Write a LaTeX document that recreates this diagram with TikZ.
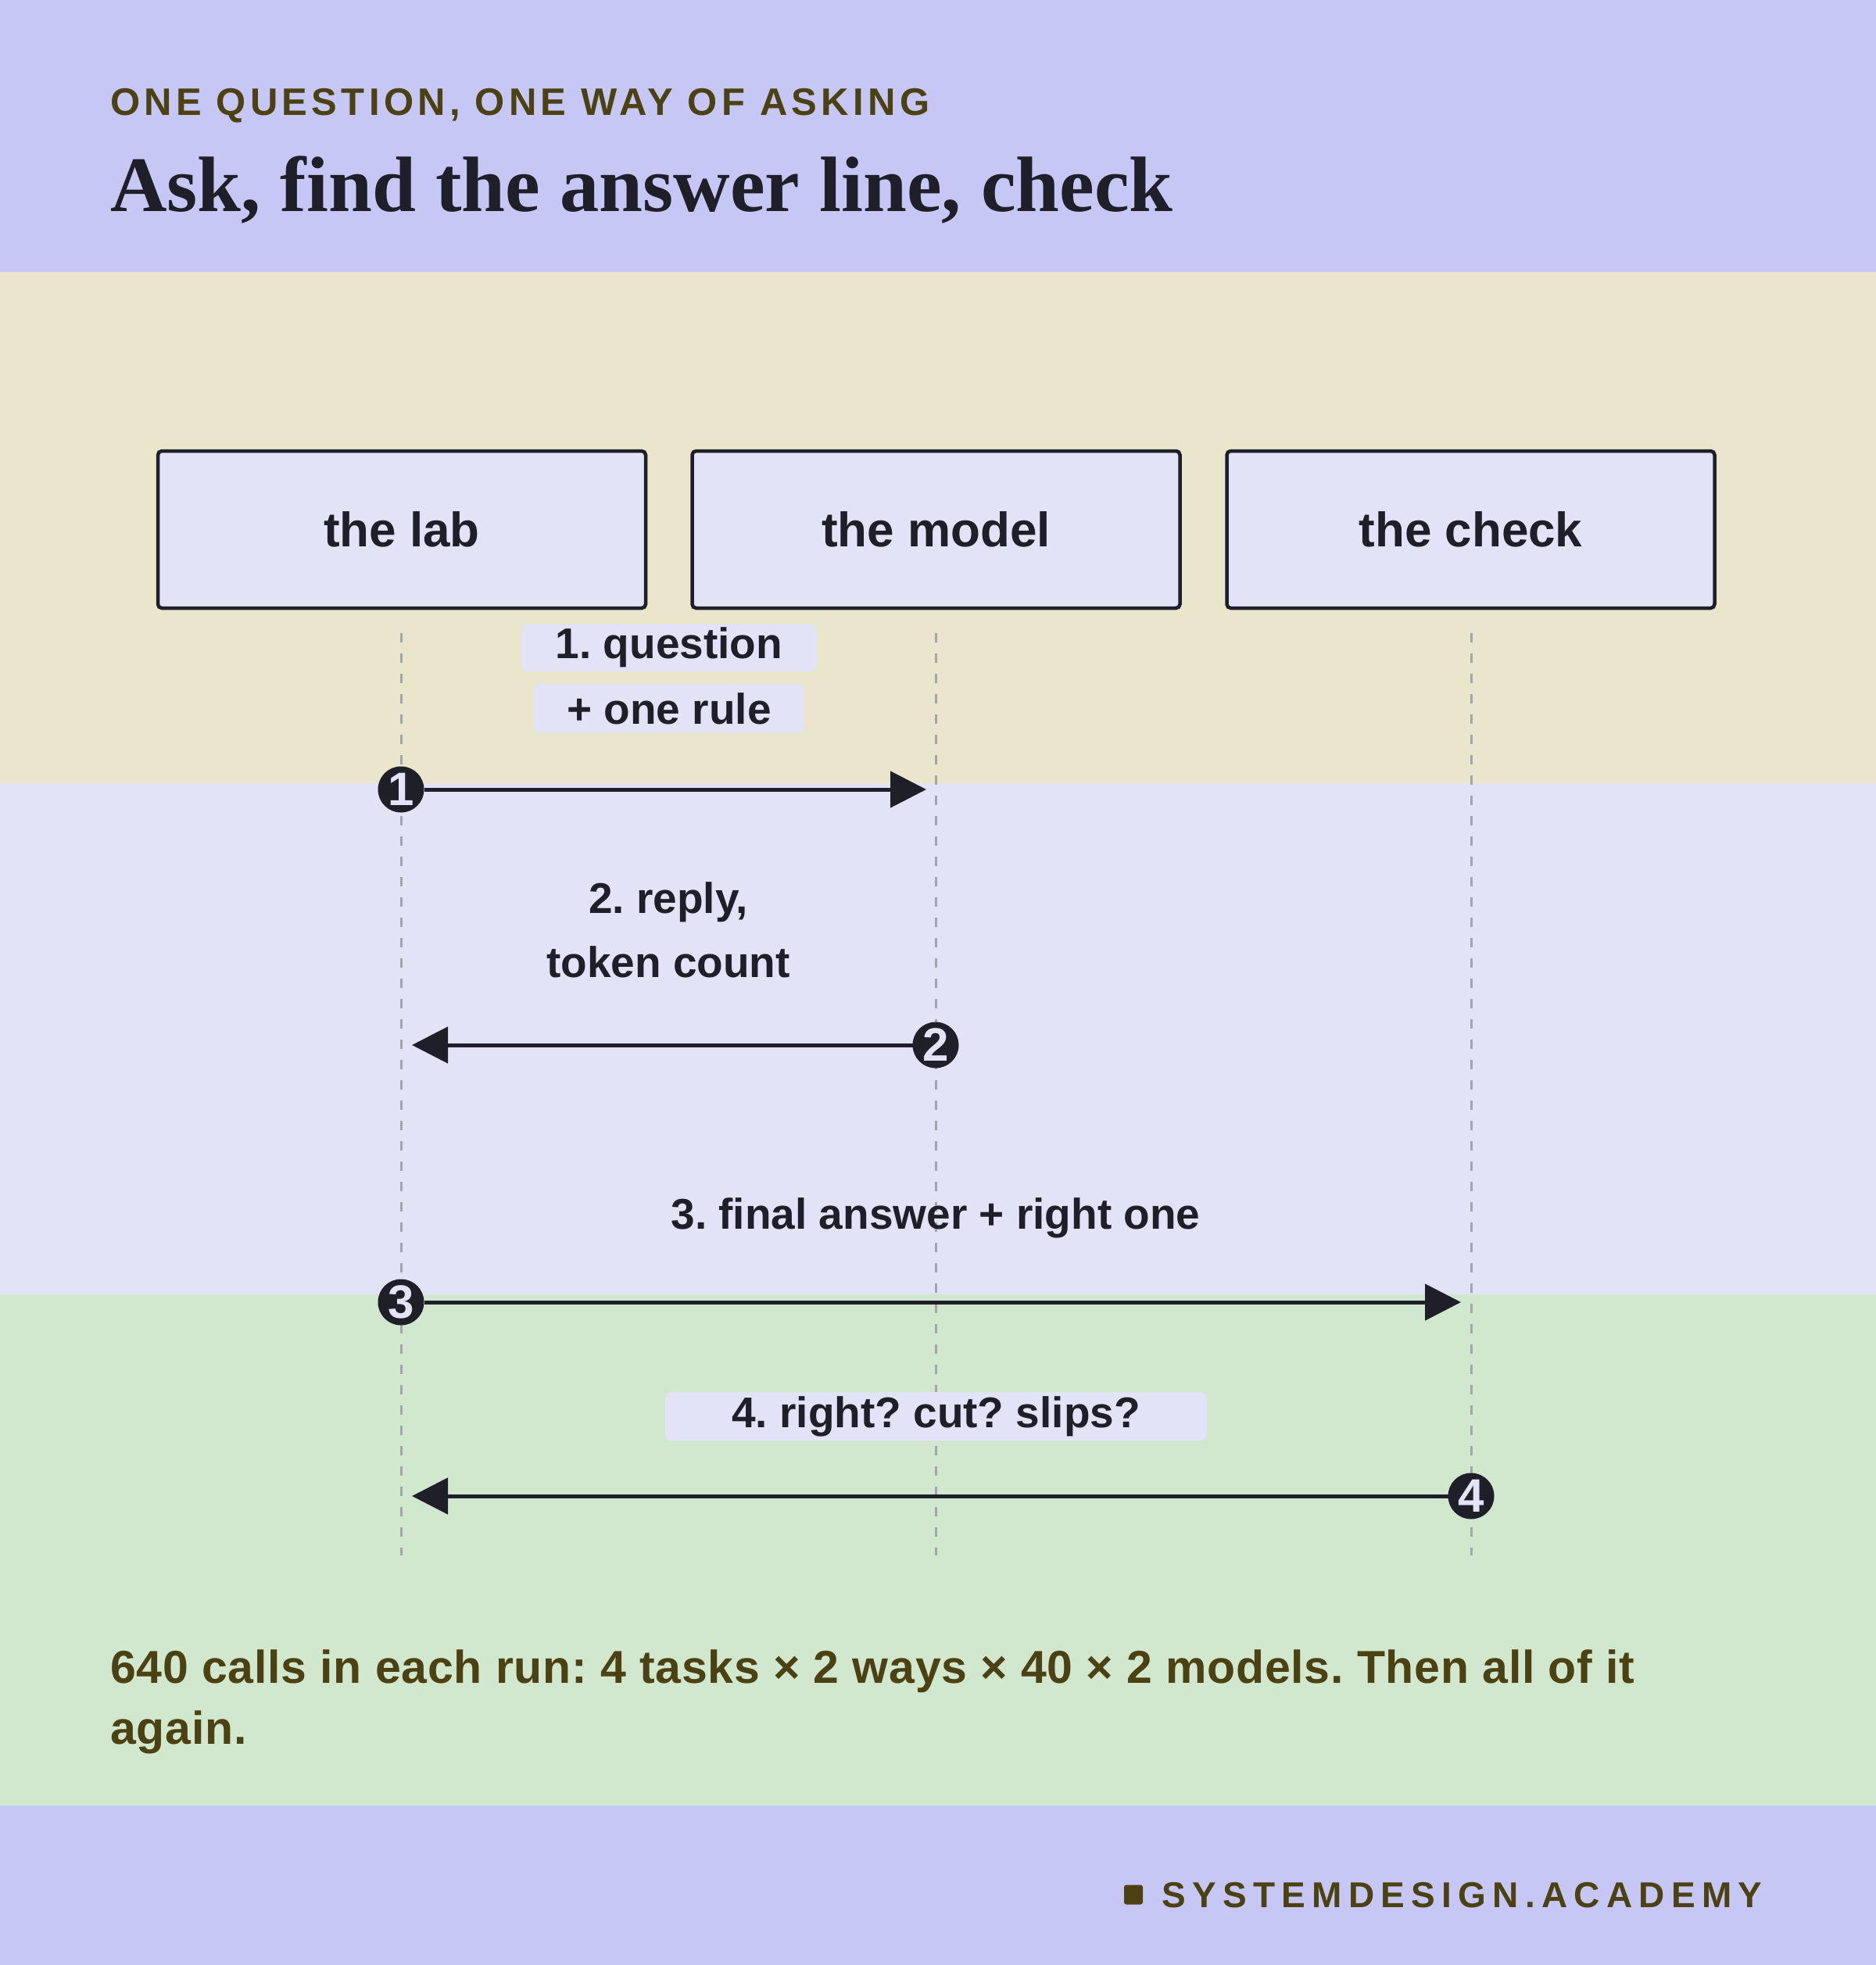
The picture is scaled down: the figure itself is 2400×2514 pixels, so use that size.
\documentclass[tikz,border=0pt]{standalone}
\usepackage{fontspec}
\setmainfont{Liberation Sans}
\newfontfamily\titleserif{Liberation Serif}
\usetikzlibrary{arrows.meta}
\frenchspacing
\definecolor{hdr}{HTML}{C6C7F5}
\definecolor{ylw}{HTML}{EAE6CC}
\definecolor{lav}{HTML}{E2E3F7}
\definecolor{grn}{HTML}{D1E8CF}
\definecolor{ink}{HTML}{1F1F2A}
\definecolor{olive}{HTML}{4B4113}
\definecolor{lifegray}{HTML}{9A9AA4}
\tikzset{
  actor/.style={draw=ink, line width=4.5pt, fill=lav, rounded corners=5pt,
    minimum width=624pt, minimum height=201pt, inner sep=0pt, text=ink,
    font=\fontsize{62}{70}\selectfont\bfseries},
  lifeline/.style={draw=lifegray, line width=3pt, dash pattern=on 12pt off 14pt, opacity=0.85},
  msg/.style={draw=ink, line width=5pt, -{Triangle[length=46pt,width=46pt]}},
  badge/.style={circle, fill=ink, draw=ink, line width=1pt, minimum size=58pt, inner sep=0pt,
    text=lav, font=\fontsize{60}{60}\selectfont\bfseries},
  msglabel/.style={fill=lav, rounded corners=8pt, inner sep=0pt, text=ink,
    font=\fontsize{55}{62}\selectfont\bfseries\frenchspacing},
}
\begin{document}
\frenchspacing
\begin{tikzpicture}[x=1pt,y=1pt]
\useasboundingbox (0,0) rectangle (2400,-2514);
% bands
\fill[hdr] (0,0) rectangle (2400,-348);
\fill[ylw] (0,-348) rectangle (2400,-1002);
\fill[lav] (0,-1002) rectangle (2400,-1656);
\fill[grn] (0,-1656) rectangle (2400,-2310);
\fill[hdr] (0,-2310) rectangle (2400,-2514);
% header
\node[anchor=base west, inner sep=0pt, text=olive,
  font=\fontsize{49}{58}\selectfont\bfseries\addfontfeatures{LetterSpace=10.8}] (kicker) at (141,-147)
  {ONE QUESTION, ONE WAY OF ASKING};
\node[anchor=base west, inner sep=0pt, text=ink,
  font=\titleserif\fontsize{100.5}{110}\selectfont\bfseries] (title) at (141,-270)
  {Ask, find the answer line, check};
% actors
\node[actor] (lab) at (514,-677.5) {the lab};
\node[actor] (model) at (1197.5,-677.5) {the model};
\node[actor] (check) at (1881.5,-677.5) {the check};
% lifelines
\coordinate (labtop) at (513,-810);
\coordinate (labbot) at (513,-1990);
\coordinate (modeltop) at (1197,-810);
\coordinate (modelbot) at (1197,-1990);
\coordinate (checktop) at (1882,-810);
\coordinate (checkbot) at (1882,-1990);
\draw[lifeline] (labtop) -- (labbot);
\draw[lifeline] (modeltop) -- (modelbot);
\draw[lifeline] (checktop) -- (checkbot);
% labels
\node[msglabel, minimum width=378pt, minimum height=61pt] (l1a) at (856,-828.5) {1. question};
\node[msglabel, minimum width=346pt, minimum height=63pt] (l1b) at (856,-906.5) {+ one rule};
\node[msglabel, fill=none] (l2a) at (855,-1154) {2. reply,};
\node[msglabel, fill=none] (l2b) at (855,-1231) {token count};
\node[msglabel, fill=none] (l3) at (1197,-1558) {3. final answer + right one};
\node[msglabel, minimum width=693pt, minimum height=62pt] (l4) at (1197.5,-1812) {4. right? cut? slips?};
% badges and messages
\node[badge] (b1) at (513,-1010) {1};
\node[badge] (b2) at (1197,-1337) {2};
\node[badge] (b3) at (513,-1666) {3};
\node[badge] (b4) at (1882,-1914) {4};
\coordinate (e1) at (1185,-1010);
\coordinate (e2) at (527,-1337);
\coordinate (e3) at (1869,-1666);
\coordinate (e4) at (527,-1914);
\draw[msg] (b1) -- (e1);
\draw[msg] (b2) -- (e2);
\draw[msg] (b3) -- (e3);
\draw[msg] (b4) -- (e4);
% bottom note
\node[anchor=base west, inner sep=0pt, text=olive, font=\fontsize{59}{66}\selectfont\bfseries\addfontfeatures{LetterSpace=1.3}] (note1) at (141,-2153)
  {640 calls in each run: 4 tasks × 2 ways × 40 × 2 models. Then all of it};
\node[anchor=base west, inner sep=0pt, text=olive, font=\fontsize{59}{66}\selectfont\bfseries\addfontfeatures{LetterSpace=1.3}] (note2) at (141,-2231)
  {again.};
% footer
\node[fill=olive, rounded corners=3pt, minimum width=24pt, minimum height=25pt, inner sep=0pt] (sq) at (1450,-2424) {};
\node[anchor=base west, inner sep=0pt, text=olive,
  font=\fontsize{46}{52}\selectfont\bfseries\addfontfeatures{LetterSpace=18}] (brand) at (1486,-2440)
  {SYSTEMDESIGN.ACADEMY};
\end{tikzpicture}
\end{document}
